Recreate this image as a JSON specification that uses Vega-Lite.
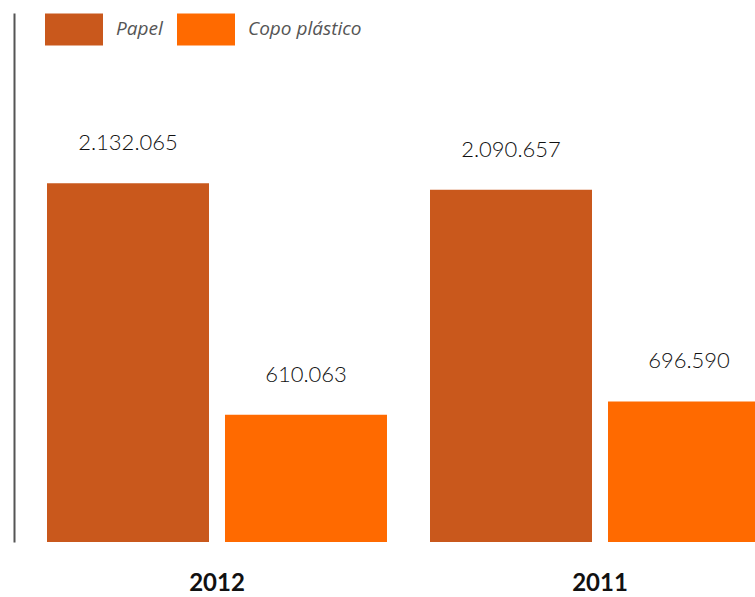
{
  "$schema": "https://vega.github.io/schema/vega-lite/v6.json",
  "width": 741,
  "height": 529,
  "autosize": "none",
  "padding": {"left": 14, "top": 13, "right": 0, "bottom": 55},
  "background": "white",
  "config": {
    "view": {"stroke": null},
    "locale": {"number": {"decimal": ",", "thousands": ".", "grouping": [3], "currency": ["", ""]}}
  },
  "data": {
    "values": [
      {"ano": "2012", "serie": "Papel", "valor": 2132065},
      {"ano": "2012", "serie": "Copo plástico", "valor": 610063},
      {"ano": "2011", "serie": "Papel", "valor": 2090657},
      {"ano": "2011", "serie": "Copo plástico", "valor": 696590}
    ]
  },
  "encoding": {
    "x": {
      "field": "ano",
      "type": "nominal",
      "sort": ["2012", "2011"],
      "scale": {"range": [33, 756], "paddingInner": 0.1123, "paddingOuter": 0},
      "axis": {
        "title": null,
        "domain": false,
        "ticks": false,
        "tickSize": 0,
        "labelAngle": 0,
        "labelFont": "Lato",
        "labelFontWeight": "bold",
        "labelFontSize": 24,
        "labelColor": "#111111",
        "labelBaseline": "alphabetic",
        "labelPadding": 48
      }
    },
    "xOffset": {
      "field": "serie",
      "type": "nominal",
      "sort": ["Papel", "Copo plástico"],
      "scale": {"paddingInner": 0.0899, "paddingOuter": 0}
    },
    "y": {
      "field": "valor",
      "type": "quantitative",
      "scale": {"domain": [-228000, 3253000], "zero": false, "nice": false},
      "axis": {
        "title": null,
        "labels": false,
        "ticks": false,
        "grid": false,
        "domain": true,
        "domainColor": "#555555",
        "domainWidth": 2
      }
    }
  },
  "layer": [
    {
      "mark": {"type": "bar", "clip": true},
      "encoding": {
        "y2": {"datum": -228000},
        "color": {
          "field": "serie",
          "type": "nominal",
          "sort": ["Papel", "Copo plástico"],
          "scale": {"domain": ["Papel", "Copo plástico"], "range": ["#C9581C", "#FF6A00"]},
          "legend": {
            "title": null,
            "orient": "none",
            "legendX": 31,
            "legendY": -13,
            "direction": "horizontal",
            "padding": 0,
            "symbolType": "M-1,-0.552H1V0.552H-1Z",
            "symbolSize": 3364,
            "symbolStrokeWidth": 0,
            "symbolOpacity": 1,
            "labelOffset": 13,
            "columnPadding": 14,
            "labelFont": "Open Sans",
            "labelFontStyle": "italic",
            "labelFontSize": 19,
            "labelColor": "#555555",
            "labelLimit": 300
          }
        }
      }
    },
    {
      "mark": {
        "type": "text",
        "baseline": "alphabetic",
        "dy": -33,
        "font": "Lato",
        "fontWeight": 300,
        "fontSize": 22,
        "color": "#111111",
        "clip": true
      },
      "encoding": {
        "text": {"field": "valor", "type": "quantitative", "format": ",d"}
      }
    }
  ]
}
